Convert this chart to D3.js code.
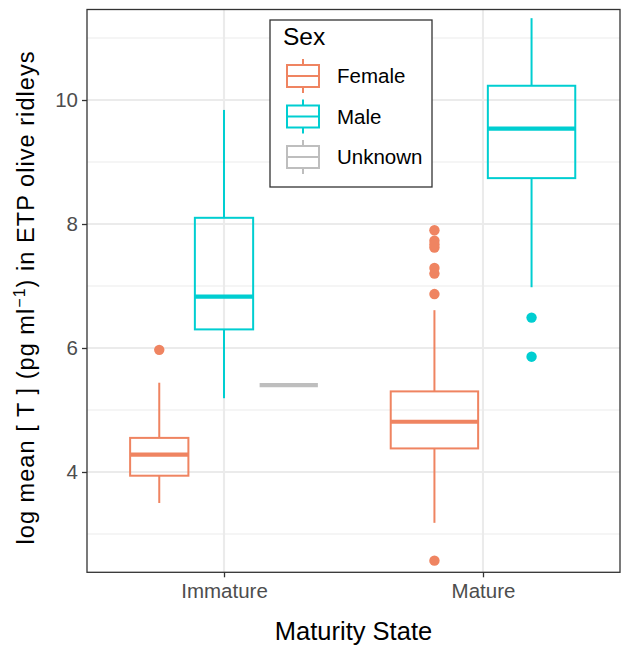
<!DOCTYPE html>
<html><head><meta charset="utf-8">
<script src="https://cdn.jsdelivr.net/npm/d3@7"></script>
<style>body{margin:0;background:#fff}svg{display:block}text{font-family:"Liberation Sans",Arial,sans-serif}</style>
</head><body>
<script>
// ---- data ----
const maturity = ["Immature", "Mature"];
const sexes = ["Female", "Male", "Unknown"];
const sexColors = ["#EF8461", "#00CED1", "#BEBEBE"];
const boxMaturity = ["Immature", "Immature", "Immature", "Mature", "Mature"];
const boxSex = ["Female", "Male", "Unknown", "Female", "Male"];
const whiskerLow = [3.50, 5.19, 5.40, 3.18, 6.98];
const q1 = [3.94, 6.30, 5.40, 4.38, 8.74];
const median = [4.28, 6.83, 5.40, 4.81, 9.54];
const q3 = [4.55, 8.10, 5.40, 5.30, 10.23];
const whiskerHigh = [5.44, 9.84, 5.40, 6.61, 11.32];
const outlierMaturity = ["Immature", "Mature", "Mature", "Mature", "Mature", "Mature", "Mature", "Mature", "Mature", "Mature", "Mature"];
const outlierSex = ["Female", "Female", "Female", "Female", "Female", "Female", "Female", "Female", "Male", "Male", "Female"];
const outlierValue = [5.97, 7.90, 7.73, 7.62, 7.29, 7.20, 6.87, 2.57, 6.49, 5.86, 7.67];
const yTicks = [4, 6, 8, 10];
const yMinor = [3, 5, 7, 9, 11];

// ---- layout ----
const W = 621, H = 646;
const P = {left: 87, right: 620, top: 9.5, bottom: 572.3};
const svg = d3.select("body").append("svg").attr("width", W).attr("height", H);

const x = d3.scalePoint().domain(maturity).range([P.left, P.right]).padding(0.529);
const step = x.step();
const y = d3.scaleLinear().domain([2.382, 11.46]).range([P.bottom, P.top]);
const color = d3.scaleOrdinal().domain(sexes).range(sexColors);

// dodge positions
function groupsIn(m) { return boxSex.filter((s, i) => boxMaturity[i] === m); }
function dodge(m, s) {
  const g = groupsIn(m); const n = g.length; const w = 0.75 / n;
  const k = g.indexOf(s);
  return {cx: x(m) + (-0.375 + w * (k + 0.5)) * step, w: w * 0.9 * step};
}

// grid
const grid = svg.append("g");
grid.selectAll(".minor").data(yMinor).join("line")
  .attr("x1", P.left).attr("x2", P.right).attr("y1", d => y(d)).attr("y2", d => y(d))
  .attr("stroke", "#EBEBEB").attr("stroke-width", 1.1);
grid.selectAll(".major").data(yTicks).join("line")
  .attr("x1", P.left).attr("x2", P.right).attr("y1", d => y(d)).attr("y2", d => y(d))
  .attr("stroke", "#EBEBEB").attr("stroke-width", 2.1);
grid.selectAll(".xmaj").data(maturity).join("line")
  .attr("x1", d => x(d)).attr("x2", d => x(d)).attr("y1", P.top).attr("y2", P.bottom)
  .attr("stroke", "#EBEBEB").attr("stroke-width", 2.1);

// boxes
const boxes = d3.range(boxSex.length).map(i => ({
  m: boxMaturity[i], s: boxSex[i], lo: whiskerLow[i], q1: q1[i], med: median[i], q3: q3[i], hi: whiskerHigh[i]
}));
const bg = svg.append("g");
boxes.forEach(b => {
  const {cx, w} = dodge(b.m, b.s);
  const c = color(b.s);
  const g = bg.append("g");
  g.append("line").attr("x1", cx).attr("x2", cx).attr("y1", y(b.q3)).attr("y2", y(b.hi)).attr("stroke", c).attr("stroke-width", 2);
  g.append("line").attr("x1", cx).attr("x2", cx).attr("y1", y(b.q1)).attr("y2", y(b.lo)).attr("stroke", c).attr("stroke-width", 2);
  g.append("rect").attr("x", cx - w / 2).attr("width", w).attr("y", y(b.q3)).attr("height", Math.max(0, y(b.q1) - y(b.q3)))
    .attr("fill", "none").attr("stroke", c).attr("stroke-width", 2);
  g.append("line").attr("x1", cx - w / 2).attr("x2", cx + w / 2).attr("y1", y(b.med)).attr("y2", y(b.med))
    .attr("stroke", c).attr("stroke-width", 4.2);
});
// outliers
svg.append("g").selectAll("circle").data(d3.range(outlierValue.length)).join("circle")
  .attr("cx", i => dodge(outlierMaturity[i], outlierSex[i]).cx)
  .attr("cy", i => y(outlierValue[i]))
  .attr("r", 5.2).attr("fill", i => color(outlierSex[i]));

// panel border
svg.append("rect").attr("x", P.left).attr("y", P.top).attr("width", P.right - P.left).attr("height", P.bottom - P.top)
  .attr("fill", "none").attr("stroke", "#333333").attr("stroke-width", 1.3);

// axes
const yAxis = svg.append("g").attr("transform", `translate(${P.left},0)`)
  .call(d3.axisLeft(y).tickValues(yTicks).tickSize(5).tickPadding(4).tickFormat(d3.format("d")));
const xAxis = svg.append("g").attr("transform", `translate(0,${P.bottom})`)
  .call(d3.axisBottom(x).tickSize(5).tickPadding(6));
[yAxis, xAxis].forEach(a => {
  a.select(".domain").remove();
  a.selectAll(".tick line").attr("stroke", "#333333").attr("stroke-width", 1.3);
  a.selectAll(".tick text").attr("fill", "#4D4D4D").style("font-size", "20.5px").style("font-family", "'Liberation Sans',Arial,sans-serif");
});

// axis titles
svg.append("text").attr("x", (P.left + P.right) / 2).attr("y", 640).attr("text-anchor", "middle")
  .style("font-size", "25.5px").attr("fill", "#000").text("Maturity State");
const yt = svg.append("text").attr("transform", `translate(34,298) rotate(-90)`)
  .attr("text-anchor", "middle").style("font-size", "23.5px").attr("fill", "#000")
  .attr("textLength", 493).attr("lengthAdjust", "spacing");
yt.append("tspan").text("log mean [ T ] (pg ml");
yt.append("tspan").attr("dy", -9).style("font-size", "16px").text("\u22121");
yt.append("tspan").attr("dy", 9).text(") in ETP olive ridleys");

// legend
const L = svg.append("g");
L.append("rect").attr("x", 270).attr("y", 20).attr("width", 162).attr("height", 167)
  .attr("fill", "#fff").attr("stroke", "#333").attr("stroke-width", 1.3);
L.append("text").attr("x", 283).attr("y", 45).style("font-size", "24.5px").text("Sex");
const keyY = [76, 116.5, 157];
sexes.forEach((s, i) => {
  const c = color(s), cy = keyY[i], kx = 303;
  const k = L.append("g");
  k.append("line").attr("x1", kx).attr("x2", kx).attr("y1", cy - 17).attr("y2", cy + 17).attr("stroke", c).attr("stroke-width", 2);
  k.append("rect").attr("x", kx - 16).attr("y", cy - 11).attr("width", 32).attr("height", 22)
    .attr("fill", "#fff").attr("stroke", c).attr("stroke-width", 2);
  k.append("line").attr("x1", kx - 16).attr("x2", kx + 16).attr("y1", cy).attr("y2", cy).attr("stroke", c).attr("stroke-width", 2);
  L.append("text").attr("x", 337).attr("y", cy).attr("dy", "0.35em").style("font-size", "20.5px").text(s);
});
</script>
</body></html>
